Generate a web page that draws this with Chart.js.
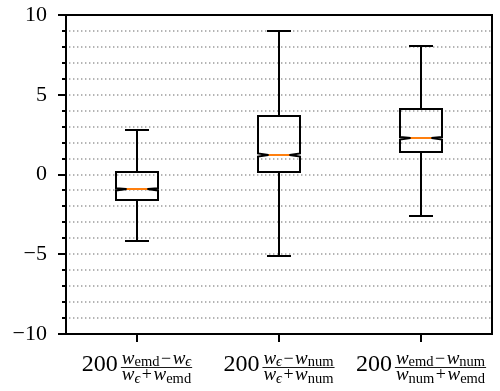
<!DOCTYPE html>
<html>
<head>
<meta charset="utf-8">
<script src="https://cdn.jsdelivr.net/npm/chart.js@4.4.0/dist/chart.umd.min.js"></script>
<style>
  html, body { margin: 0; padding: 0; background: #fff; }
  #wrap { width: 500px; height: 391px; }
</style>
</head>
<body>
<div id="wrap"><canvas id="boxChart"></canvas></div>
<script>
// Category labels (drawn as fractions below the axis)
const categories = [
    '200 (w_emd − w_ϵ) / (w_ϵ + w_emd)',
    '200 (w_ϵ − w_num) / (w_ϵ + w_num)',
    '200 (w_emd − w_num) / (w_num + w_emd)'
];
const numTerms = [['emd', 'ϵ'], ['ϵ', 'num'], ['emd', 'num']];
const denTerms = [['ϵ', 'emd'], ['ϵ', 'num'], ['num', 'emd']];

// Box statistics
const whiskerLow  = [-4.16, -5.08, -2.58];
const q1          = [-1.60,  0.14,  1.41];
const median      = [-0.93,  1.22,  2.27];
const q3          = [ 0.18,  3.68,  4.08];
const whiskerHigh = [ 2.81,  8.99,  8.07];
const notchLow    = [-1.00,  1.12,  2.19];
const notchHigh   = [-0.86,  1.32,  2.35];

// Axis ticks
const yMajorTicks = [-10, -5, 0, 5, 10];
const yMinorTicks = [-9, -8, -7, -6, -4, -3, -2, -1, 1, 2, 3, 4, 6, 7, 8, 9];
const yGridLines  = [-9, -8, -7, -6, -5, -4, -3, -2, -1, 0, 1, 2, 3, 4, 5, 6, 7, 8, 9];

const SERIF = '"Liberation Serif", "DejaVu Serif", serif';

// width of a row of text pieces
function pieceWidth(ctx, pieces) {
    let w = 0;
    pieces.forEach(p => {
        ctx.font = p.font;
        w += ctx.measureText(p.text).width + (p.pad || 0) * 2;
    });
    return w;
}
function drawPieces(ctx, pieces, x, baseline) {
    pieces.forEach(p => {
        ctx.font = p.font;
        x += (p.pad || 0);
        ctx.fillText(p.text, x, baseline + (p.dy || 0));
        x += ctx.measureText(p.text).width + (p.pad || 0);
    });
}
function term(sub, subDy) {
    const subFont = (sub === 'ϵ' ? 'italic ' : '') + '14.5px ' + SERIF;
    return [
        { text: 'w', font: 'italic 19px ' + SERIF },
        { text: sub, font: subFont, dy: subDy }
    ];
}

const px = v => Math.round(v);

const boxPlugin = {
    id: 'boxPlugin',
    beforeDatasetsDraw(chart) {
        const { ctx, chartArea, scales: { y } } = chart;
        // dotted grid lines
        ctx.save();
        ctx.strokeStyle = '#9c9c9c';
        ctx.lineWidth = 1.3;
        ctx.setLineDash([1.4, 2.6]);
        yGridLines.forEach(v => {
            const py = px(y.getPixelForValue(v));
            ctx.beginPath();
            ctx.moveTo(chartArea.left + 3, py);
            ctx.lineTo(chartArea.right, py);
            ctx.stroke();
        });
        ctx.restore();
    },
    afterDatasetsDraw(chart) {
        const { ctx, scales: { y } } = chart;
        const meta = chart.getDatasetMeta(0);
        ctx.save();
        ctx.lineWidth = 2;
        ctx.strokeStyle = '#000';
        ctx.lineJoin = 'miter';
        meta.data.forEach((bar, i) => {
            const cx = px(bar.x);
            const w = bar.width;
            const l = px(cx - w / 2), r = px(cx + w / 2);
            const yq1 = px(y.getPixelForValue(q1[i]));
            const yq3 = px(y.getPixelForValue(q3[i]));
            const ym = px(y.getPixelForValue(median[i]));
            const ynl = y.getPixelForValue(notchLow[i]);
            const ynh = y.getPixelForValue(notchHigh[i]);
            const yLo = px(y.getPixelForValue(whiskerLow[i]));
            const yHi = px(y.getPixelForValue(whiskerHigh[i]));
            const capHalf = px(w / 4) + 1;

            // whiskers
            ctx.beginPath();
            ctx.moveTo(cx, yq3); ctx.lineTo(cx, yHi);
            ctx.moveTo(cx - capHalf, yHi); ctx.lineTo(cx + capHalf, yHi);
            ctx.moveTo(cx, yq1); ctx.lineTo(cx, yLo);
            ctx.moveTo(cx - capHalf, yLo); ctx.lineTo(cx + capHalf, yLo);
            ctx.stroke();

            // notched box
            const nIn = w / 4;
            ctx.beginPath();
            ctx.moveTo(l, yq1);
            ctx.lineTo(r, yq1);
            ctx.lineTo(r, ynl);
            ctx.lineTo(r - nIn, ym);
            ctx.lineTo(r, ynh);
            ctx.lineTo(r, yq3);
            ctx.lineTo(l, yq3);
            ctx.lineTo(l, ynh);
            ctx.lineTo(l + nIn, ym);
            ctx.lineTo(l, ynl);
            ctx.closePath();
            ctx.stroke();

            // median
            ctx.strokeStyle = '#ff7f0e';
            ctx.beginPath();
            ctx.moveTo(l + nIn, ym);
            ctx.lineTo(r - nIn, ym);
            ctx.stroke();
            ctx.strokeStyle = '#000';
        });
        ctx.restore();
    },
    afterDraw(chart) {
        const { ctx, chartArea, scales: { x, y } } = chart;
        const left = px(chartArea.left), right = px(chartArea.right);
        const top = px(chartArea.top), bottom = px(chartArea.bottom);
        ctx.save();
        ctx.strokeStyle = '#000';
        ctx.lineWidth = 2;
        // frame
        ctx.strokeRect(left, top, right - left, bottom - top);
        // y ticks
        ctx.beginPath();
        yMajorTicks.forEach(v => {
            const py = px(y.getPixelForValue(v));
            ctx.moveTo(left - 8, py); ctx.lineTo(left, py);
        });
        yMinorTicks.forEach(v => {
            const py = px(y.getPixelForValue(v));
            ctx.moveTo(left - 4, py); ctx.lineTo(left, py);
        });
        // x ticks
        categories.forEach((c, i) => {
            const tx = px(x.getPixelForValue(i));
            ctx.moveTo(tx, bottom); ctx.lineTo(tx, bottom + 8);
        });
        ctx.stroke();

        // x labels: 200 * fraction
        ctx.fillStyle = '#000';
        ctx.textAlign = 'left';
        ctx.textBaseline = 'alphabetic';
        categories.forEach((c, i) => {
            const cx = x.getPixelForValue(i);
            const prefix = [{ text: '200', font: '24px ' + SERIF }];
            const num = term(numTerms[i][0], 2.5).concat([{ text: '−', font: '18px ' + SERIF, pad: 1.5 }], term(numTerms[i][1], 2.5));
            const den = term(denTerms[i][0], 3.5).concat([{ text: '+', font: '18px ' + SERIF, pad: 1.5 }], term(denTerms[i][1], 3.5));
            const pw = pieceWidth(ctx, prefix);
            const nw = pieceWidth(ctx, num);
            const dw = pieceWidth(ctx, den);
            const fw = Math.max(nw, dw) + 2;
            const gap = 3;
            const x0 = cx - (pw + gap + fw) / 2;
            const barY = bottom + 33.5;
            drawPieces(ctx, prefix, x0, bottom + 37);
            const fx = x0 + pw + gap;
            drawPieces(ctx, num, fx + (fw - nw) / 2, barY - 4);
            drawPieces(ctx, den, fx + (fw - dw) / 2, barY + 12);
            ctx.lineWidth = 0.9;
            ctx.beginPath();
            ctx.moveTo(fx, barY); ctx.lineTo(fx + fw, barY);
            ctx.stroke();
        });
        ctx.restore();
    }
};

const ctxBox = document.getElementById('boxChart').getContext('2d');
const boxChart = new Chart(ctxBox, {
    type: 'bar',
    data: {
        labels: categories,
        datasets: [{
            label: 'IQR',
            data: q1.map((v, i) => [v, q3[i]]),
            backgroundColor: 'rgba(255,255,255,0)',
            borderWidth: 0,
            barPercentage: 0.3,
            categoryPercentage: 1.0
        }]
    },
    options: {
        responsive: true,
        maintainAspectRatio: false,
        animation: false,
        layout: { padding: { top: 15, right: 8, left: 0, bottom: 0 } },
        plugins: { legend: { display: false }, tooltip: { enabled: false } },
        scales: {
            x: {
                grid: { display: false, drawTicks: false },
                border: { display: false },
                ticks: { display: false },
                afterFit(scale) {
                    scale.height = 57;
                    scale.paddingLeft = 0;
                    scale.paddingRight = 0;
                }
            },
            y: {
                min: -10,
                max: 10,
                grid: { display: false, drawTicks: false },
                border: { display: false },
                ticks: {
                    stepSize: 5,
                    padding: 19,
                    color: '#000',
                    font: { family: SERIF, size: 22 },
                    callback: v => String(v).replace('-', '−')
                },
                afterFit(scale) {
                    scale.width = 66;
                    scale.paddingTop = 0;
                    scale.paddingBottom = 0;
                }
            }
        }
    },
    plugins: [boxPlugin]
});
</script>
</body>
</html>
